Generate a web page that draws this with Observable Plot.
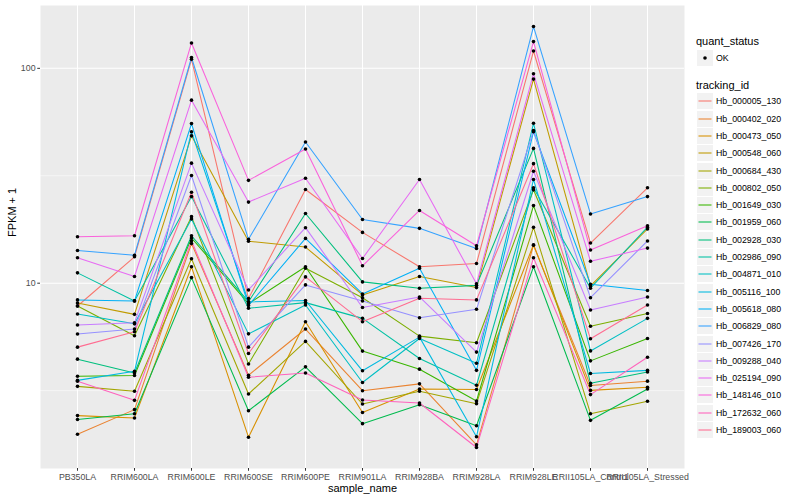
<!DOCTYPE html>
<html>
<head>
<meta charset="utf-8">
<script src="https://cdn.jsdelivr.net/npm/d3@7"></script>
<script src="https://cdn.jsdelivr.net/npm/@observablehq/plot@0.6"></script>
<style>
  body { margin: 0; background: #fff; font-family: "Liberation Sans", Arial, sans-serif; }
  #wrap { position: relative; width: 800px; height: 500px; }
  #wrap svg { position: absolute; left: 0; top: 0; }
  .lg { position: absolute; white-space: nowrap; }
  .lg-title { font-size: 11px; color: #000; line-height: 12px; }
  .lg-key { width: 16px; height: 16px; background: #F2F2F2; }
  .lg-text { font-size: 8.8px; color: #000; line-height: 10px; }
</style>
</head>
<body>
<div id="wrap"></div>
<script>
const samples = ["PB350LA","RRIM600LA","RRIM600LE","RRIM600SE","RRIM600PE","RRIM901LA","RRIM928BA","RRIM928LA","RRIM928LE","RRII105LA_Control","RRII105LA_Stressed"];
const trackingIds = ["Hb_000005_130","Hb_000402_020","Hb_000473_050","Hb_000548_060","Hb_000684_430","Hb_000802_050","Hb_001649_030","Hb_001959_060","Hb_002928_030","Hb_002986_090","Hb_004871_010","Hb_005116_100","Hb_005618_080","Hb_006829_080","Hb_007426_170","Hb_009288_040","Hb_025194_090","Hb_148146_010","Hb_172632_060","Hb_189003_060"];
const lineColors = ["#F8766D","#EA8331","#D89000","#C09B00","#A3A500","#7CAE00","#39B600","#00BB4E","#00BF7D","#00C1A3","#00BFC4","#00BAE0","#00B0F6","#35A2FF","#9590FF","#C77CFF","#E76BF3","#FA62DB","#FF62BC","#FF6C91"];
const yTicks = [10, 100];
const yMinorGrid = [3.162, 31.62];
const quantStatus = ["OK"];

// FPKM + 1 per tracking_id, in the order of samples
const hb_000005_130 = [7.83, 13.27, 110.2, 8.49, 27.3, 17.24, 11.92, 12.35, 120.4, 15.38, 27.8];
const hb_000402_020 = [1.98, 2.58, 15.31, 3.73, 6.12, 3.16, 3.40, 1.77, 15.02, 3.34, 3.50];
const hb_000473_050 = [2.42, 2.36, 11.92, 1.92, 6.62, 2.50, 3.22, 3.20, 15.10, 3.17, 3.28];
const hb_000548_060 = [8.09, 7.16, 48.5, 15.68, 14.73, 8.82, 10.74, 9.54, 89.1, 9.71, 17.88];
const hb_000684_430 = [3.31, 3.14, 12.99, 3.05, 5.36, 2.74, 3.14, 2.75, 18.19, 2.47, 2.82];
const hb_000802_050 = [7.83, 5.69, 20.4, 4.21, 11.75, 8.56, 5.67, 5.28, 27.2, 6.30, 7.23];
const hb_001649_030 = [3.69, 3.72, 16.23, 8.03, 11.92, 4.83, 3.98, 2.83, 22.97, 4.35, 5.53];
const hb_001959_060 = [2.32, 2.47, 10.62, 2.55, 4.08, 2.22, 2.72, 2.17, 11.92, 2.30, 3.22];
const hb_002928_030 = [4.43, 3.82, 16.63, 8.20, 21.1, 10.14, 9.48, 9.77, 42.4, 3.42, 3.86];
const hb_002986_090 = [11.17, 8.27, 25.3, 7.64, 8.12, 6.86, 4.46, 3.35, 27.8, 9.48, 18.23];
const hb_004871_010 = [7.19, 6.47, 19.9, 5.81, 7.92, 3.45, 5.53, 4.24, 55.5, 4.84, 6.86];
const hb_005116_100 = [3.53, 3.89, 50.7, 8.18, 8.31, 3.91, 5.61, 1.93, 30.4, 3.80, 3.93];
const hb_005618_080 = [8.36, 8.27, 55.3, 7.88, 16.16, 8.91, 11.75, 3.93, 50.7, 9.89, 9.25];
const hb_006829_080 = [14.2, 13.5, 112.3, 16.0, 45.4, 19.8, 18.0, 14.5, 156.5, 21.0, 25.3];
const hb_007426_170 = [5.80, 6.12, 31.7, 5.04, 9.82, 8.27, 6.91, 7.56, 51.3, 8.56, 15.72];
const hb_009288_040 = [6.39, 6.55, 36.2, 9.30, 18.13, 7.71, 8.63, 4.78, 33.2, 7.50, 8.63];
const hb_025194_090 = [13.13, 10.74, 71.1, 23.85, 30.8, 13.03, 30.4, 9.93, 94.4, 12.65, 14.57];
const hb_148146_010 = [16.46, 16.63, 131.3, 30.1, 42.1, 12.05, 21.8, 14.94, 133.2, 14.27, 18.52];
const hb_172632_060 = [3.50, 2.85, 15.76, 3.65, 3.82, 2.86, 2.77, 1.72, 13.13, 3.03, 4.52];
const hb_189003_060 = [5.04, 5.94, 26.5, 4.71, 10.70, 6.62, 8.51, 8.36, 36.0, 5.51, 7.92];

const series = [hb_000005_130, hb_000402_020, hb_000473_050, hb_000548_060, hb_000684_430, hb_000802_050, hb_001649_030, hb_001959_060, hb_002928_030, hb_002986_090, hb_004871_010, hb_005116_100, hb_005618_080, hb_006829_080, hb_007426_170, hb_009288_040, hb_025194_090, hb_148146_010, hb_172632_060, hb_189003_060];

const data = trackingIds.flatMap((id, i) => series[i].map((v, j) => ({ id, sample: samples[j], value: v, status: quantStatus[0] })));

const lmin = Math.log10(d3.min(data, d => d.value));
const lmax = Math.log10(d3.max(data, d => d.value));
const pad = 0.05 * (lmax - lmin);

const font = "Liberation Sans, Arial, sans-serif";

const chart = Plot.plot({
  width: 800,
  height: 500,
  marginLeft: 40,
  marginRight: 116,
  marginTop: 5,
  marginBottom: 32,
  style: { fontFamily: font, fontSize: "8.8px", color: "#4D4D4D", background: "transparent" },
  x: { type: "point", domain: samples, padding: 0.6, label: null },
  y: { type: "log", domain: [10 ** (lmin - pad), 10 ** (lmax + pad)], label: null },
  color: { domain: trackingIds, range: lineColors },
  marks: [
    Plot.frame({ fill: "#EBEBEB", stroke: null }),
    Plot.ruleY(yMinorGrid, { y: d => d, stroke: "white", strokeWidth: 0.53 }),
    Plot.ruleY(yTicks, { y: d => d, stroke: "white", strokeWidth: 1.07 }),
    Plot.ruleX(samples, { x: d => d, stroke: "white", strokeWidth: 1.07 }),
    Plot.line(data, { x: "sample", y: "value", z: "id", stroke: "id", strokeWidth: 1.07 }),
    Plot.dot(data, { x: "sample", y: "value", r: 1.8, fill: "black", stroke: null }),
    Plot.axisX({ tickSize: 2.75, tickPadding: 2.2, stroke: "#333333", fill: "#4D4D4D", label: null, fontSize: 8.8 }),
    Plot.axisY({ ticks: yTicks, tickFormat: d => String(d), tickSize: 2.75, tickPadding: 2.2, stroke: "#333333", fill: "#4D4D4D", label: null, fontSize: 8.8 }),
    Plot.text(["sample_name"], { text: d => d, frameAnchor: "bottom", dy: 23, fontSize: 11, fill: "black" }),
    Plot.text(["FPKM + 1"], { text: d => d, frameAnchor: "left", dx: -28, rotate: -90, fontSize: 11, fill: "black" })
  ]
});

const wrap = document.getElementById("wrap");
wrap.appendChild(chart);

// legend (ggplot style, right side)
function add(html, cls, left, top) {
  const el = document.createElement("div");
  el.className = "lg " + cls;
  el.style.left = left + "px";
  el.style.top = top + "px";
  el.innerHTML = html;
  wrap.appendChild(el);
  return el;
}
add("quant_status", "lg-title", 696, 34.5);
const okKey = add("", "lg-key", 697, 49.5);
okKey.innerHTML = '<svg width="16" height="16"><circle cx="8" cy="8" r="1.8" fill="black"/></svg>';
add(quantStatus[0], "lg-text", 716, 52.5);
add("tracking_id", "lg-title", 696, 79);
trackingIds.forEach((id, i) => {
  const cy = 101.3 + i * 17.3;
  const k = add("", "lg-key", 697, cy - 8);
  k.innerHTML = `<svg width="16" height="16"><line x1="1.5" x2="14.5" y1="8" y2="8" stroke="${lineColors[i]}" stroke-width="1.07"/></svg>`;
  add(id, "lg-text", 716, cy - 5);
});
</script>
</body>
</html>
